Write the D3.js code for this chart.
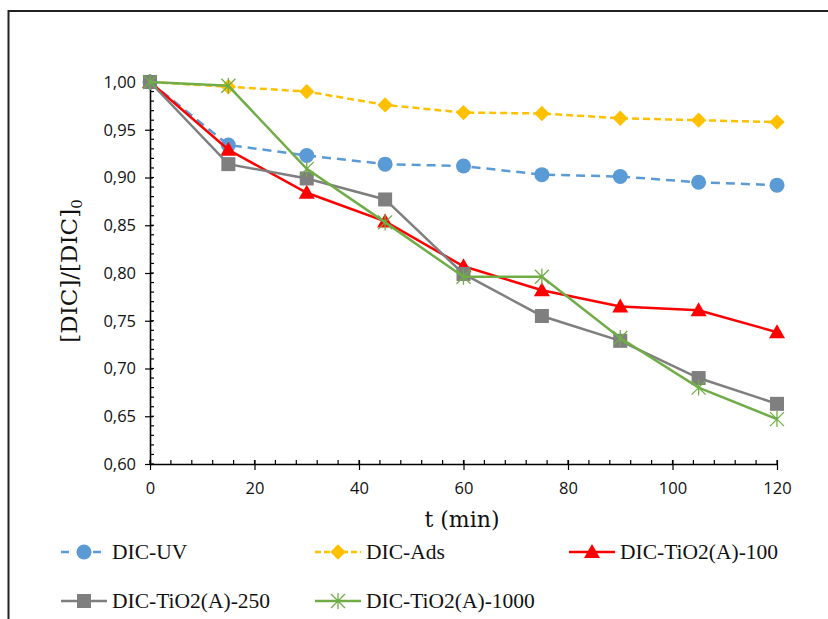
<!DOCTYPE html>
<html>
<head>
<meta charset="utf-8">
<script src="https://cdn.jsdelivr.net/npm/d3@7"></script>
<style>
  body { margin: 0; background: #fff; }
  svg { display: block; }
</style>
</head>
<body>
<svg id="chart" width="828" height="619"></svg>
<script>
// time points (min)
var times = [0, 15, 30, 45, 60, 75, 90, 105, 120];
// [DIC]/[DIC]0 for every run
var dicUV = [1.000, 0.934, 0.923, 0.914, 0.912, 0.903, 0.901, 0.895, 0.892];
var dicAds = [1.000, 0.995, 0.990, 0.976, 0.968, 0.967, 0.962, 0.960, 0.958];
var dicTi100 = [1.000, 0.929, 0.884, 0.854, 0.807, 0.782, 0.765, 0.761, 0.738];
var dicTi250 = [1.000, 0.914, 0.899, 0.877, 0.799, 0.755, 0.729, 0.690, 0.663];
var dicTi1000 = [1.000, 0.996, 0.909, 0.853, 0.796, 0.796, 0.732, 0.680, 0.647];
var seriesNames = ["DIC-UV", "DIC-Ads", "DIC-TiO2(A)-100", "DIC-TiO2(A)-250", "DIC-TiO2(A)-1000"];
var xTicks = [0, 20, 40, 60, 80, 100, 120];
var yTicks = [0.60, 0.65, 0.70, 0.75, 0.80, 0.85, 0.90, 0.95, 1.00];

var series = [
  {name: seriesNames[0], values: dicUV, color: "#5B9BD5", dash: "9,6", marker: "circle"},
  {name: seriesNames[1], values: dicAds, color: "#FFC000", dash: "7,4", marker: "diamond"},
  {name: seriesNames[2], values: dicTi100, color: "#FF0000", dash: null, marker: "triangle"},
  {name: seriesNames[3], values: dicTi250, color: "#7F7F7F", dash: null, marker: "square"},
  {name: seriesNames[4], values: dicTi1000, color: "#70AD47", dash: null, marker: "star"}
];

var svg = d3.select("#chart");

// outer frame (runs off the right and bottom edges)
svg.append("rect").attr("x", 8.5).attr("y", 11).attr("width", 900).attr("height", 700)
  .attr("fill", "none").attr("stroke", "#222").attr("stroke-width", 2);

var x = d3.scaleLinear().domain([0, 120]).range([150, 777]);
var y = d3.scaleLinear().domain([0.60, 1.00]).range([464, 82]);

var fmt = function(d) { return d3.format(".2f")(d).replace(".", ","); };

// minor ticks, inside
var g = svg.append("g");
g.selectAll("line.xminor").data(d3.range(0, 121, 4)).enter().append("line")
  .attr("x1", function(d) { return x(d); }).attr("x2", function(d) { return x(d); })
  .attr("y1", y(0.60)).attr("y2", y(0.60) - 4)
  .attr("stroke", "#000").attr("stroke-width", 1.2);
g.selectAll("line.yminor").data(d3.range(60, 101, 1).map(function(d) { return d / 100; })).enter().append("line")
  .attr("x1", x(0)).attr("x2", x(0) + 4)
  .attr("y1", function(d) { return y(d); }).attr("y2", function(d) { return y(d); })
  .attr("stroke", "#000").attr("stroke-width", 1.2);

// axes
var xAxis = svg.append("g").attr("transform", "translate(0," + y(0.60) + ")")
  .call(d3.axisBottom(x).tickValues(xTicks).tickSizeInner(6).tickSizeOuter(0).tickPadding(12));
var yAxis = svg.append("g").attr("transform", "translate(" + x(0) + ",0)")
  .call(d3.axisLeft(y).tickValues(yTicks).tickFormat(fmt).tickSizeInner(5).tickSizeOuter(0).tickPadding(9));

[xAxis, yAxis].forEach(function(a) {
  a.select(".domain").attr("stroke", "#000").attr("stroke-width", 1.6);
  a.selectAll(".tick line").attr("stroke", "#000").attr("stroke-width", 1.2);
  a.selectAll(".tick text").attr("font-family", "'Open Sans', sans-serif").attr("font-size", 16.5).attr("fill", "#111");
});
// major ticks cross the axis
xAxis.selectAll(".tick line").attr("y1", -4);
yAxis.selectAll(".tick line").attr("x1", 3);

// axis titles
svg.append("text").attr("x", 462).attr("y", 527).attr("text-anchor", "middle")
  .attr("font-family", "'DejaVu Serif', serif").attr("font-size", 22).attr("fill", "#111")
  .text("t (min)");

var yt = svg.append("text").attr("transform", "translate(77,271) rotate(-90)")
  .attr("text-anchor", "middle")
  .attr("font-family", "'DejaVu Serif', serif").attr("font-size", 23).attr("fill", "#111");
yt.append("tspan").text("[DIC]/[DIC]");
yt.append("tspan").attr("font-size", 15).attr("dy", 5).text("0");

// markers
function drawMarker(sel, type, color, cx, cy) {
  if (type === "circle") {
    sel.append("circle").attr("cx", cx).attr("cy", cy).attr("r", 7.5).attr("fill", color);
  } else if (type === "diamond") {
    sel.append("path").attr("d", d3.symbol().type(d3.symbolDiamond2).size(150)())
      .attr("transform", "translate(" + cx + "," + cy + ")").attr("fill", color);
  } else if (type === "triangle") {
    sel.append("path").attr("d", "M0,-8L8,6L-8,6Z")
      .attr("transform", "translate(" + cx + "," + cy + ")").attr("fill", color);
  } else if (type === "square") {
    sel.append("rect").attr("x", cx - 7).attr("y", cy - 7).attr("width", 14).attr("height", 14).attr("fill", color);
  } else if (type === "star") {
    sel.append("path").attr("d", "M-7,-7L7,7M-7,7L7,-7M0,-8L0,8")
      .attr("transform", "translate(" + cx + "," + cy + ")")
      .attr("stroke", color).attr("stroke-width", 1.3).attr("fill", "none");
  }
}

var line = d3.line().x(function(d, i) { return x(times[i]); }).y(function(d) { return y(d); });

series.forEach(function(s) {
  var sg = svg.append("g");
  sg.append("path").datum(s.values).attr("d", line)
    .attr("fill", "none").attr("stroke", s.color).attr("stroke-width", 2.5)
    .attr("stroke-dasharray", s.dash);
  s.values.forEach(function(v, i) { drawMarker(sg, s.marker, s.color, x(times[i]), y(v)); });
});

// legend
var legendPos = [[61, 552], [315, 552], [569, 552], [61, 601], [315, 601]];
series.forEach(function(s, i) {
  var lx = legendPos[i][0], ly = legendPos[i][1];
  var lg = svg.append("g");
  lg.append("line").attr("x1", lx).attr("x2", lx + 46).attr("y1", ly).attr("y2", ly)
    .attr("stroke", s.color).attr("stroke-width", 2.5)
    .attr("stroke-dasharray", s.dash ? (i === 0 ? "8,8" : "6,3") : null);
  drawMarker(lg, s.marker, s.color, lx + 23, ly);
  lg.append("text").attr("x", lx + 51).attr("y", ly + 7)
    .attr("font-family", "'Liberation Serif', serif").attr("font-size", 21.5).attr("fill", "#111")
    .text(s.name);
});
</script>
</body>
</html>
